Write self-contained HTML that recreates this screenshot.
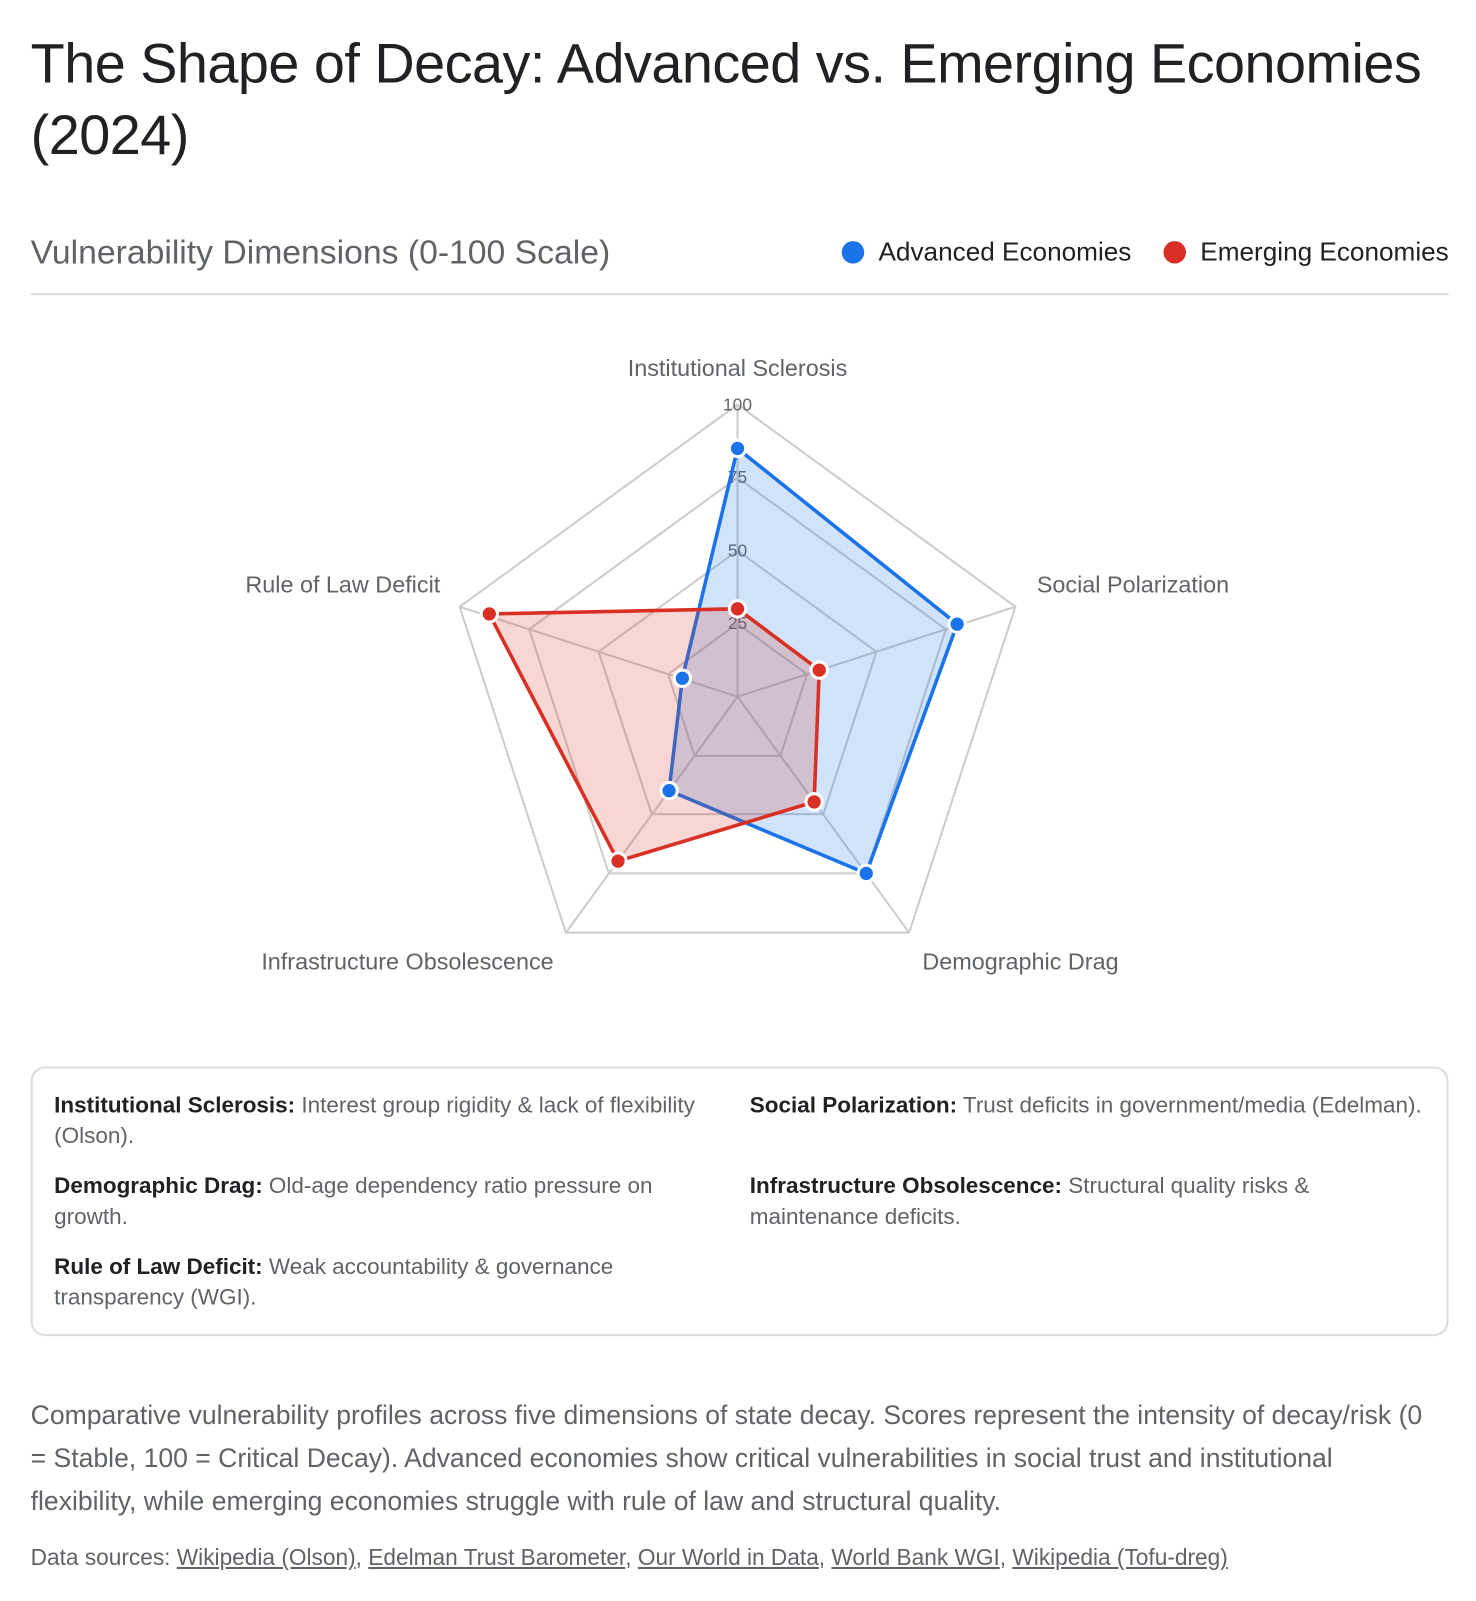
<!DOCTYPE html>
<html><head><meta charset="utf-8"><style>
body{margin:0;background:#fff;font-family:"Liberation Sans",sans-serif;color:#202124;overflow:hidden}
.wrap{position:relative;width:1445px;height:1567px;transform:scale(1.0215);transform-origin:0 0}
h1{position:absolute;left:30px;top:28px;margin:0;font-size:54.6px;font-weight:400;line-height:70px;width:1420px;letter-spacing:-0.5px}
.sub{position:absolute;left:30px;top:228px;font-size:33px;color:#5f6368}
.leg{position:absolute;top:233px;font-size:25.6px;color:#202124}
.dot{display:inline-block;width:22px;height:22px;border-radius:50%;vertical-align:-3px;margin-right:14px}
.hr{position:absolute;left:30px;top:287px;width:1388px;height:2px;background:#dadce0}
.box{position:absolute;left:30px;top:1044px;width:1384px;height:260px;border:2px solid #dadce0;border-radius:14px}
.it{position:absolute;font-size:22px;line-height:30px;color:#5f6368;width:640px}
.it b{color:#202124}
.desc{position:absolute;left:30px;top:1364px;width:1382px;font-size:26px;line-height:42px;color:#5f6368}
.src{position:absolute;left:30px;top:1512px;font-size:22.2px;color:#5f6368}
.src u{color:#5f6368}
</style></head><body><div class="wrap">
<h1>The Shape of Decay: Advanced vs. Emerging Economies (2024)</h1>
<div class="sub">Vulnerability Dimensions (0-100 Scale)</div>
<div class="leg" style="left:824px"><span class="dot" style="background:#1a73e8"></span>Advanced Economies</div>
<div class="leg" style="left:1139px"><span class="dot" style="background:#d93025"></span>Emerging Economies</div>
<div class="hr"></div>
<svg width="1445" height="1000" style="position:absolute;left:0;top:0" font-family="Liberation Sans, sans-serif">
<g fill="none" stroke="#ccc" stroke-width="2">
<polygon points="722,396 994,594 890,913 554,913 450,594"/>
<polygon points="722,467.5 926,616 848,855 596,855 518,616"/>
<polygon points="722,539 858,638 806,797 638,797 586,638"/>
<polygon points="722,610.5 790,660 764,740 680,740 654,660"/>
<line x1="722" y1="682" x2="722" y2="396"/><line x1="722" y1="682" x2="994" y2="594"/><line x1="722" y1="682" x2="890" y2="913"/><line x1="722" y1="682" x2="554" y2="913"/><line x1="722" y1="682" x2="450" y2="594"/>
</g>
<g font-size="17" fill="#666" text-anchor="middle"><text x="722" y="402">100</text><text x="722" y="473">75</text><text x="722" y="545">50</text><text x="722" y="616">25</text></g>
<polygon points="722,439 937,611 848,855 655,774 668,664" fill="rgba(26,115,232,0.2)" stroke="#1a73e8" stroke-width="3.5" stroke-linejoin="round"/>
<polygon points="722,596 802,656 797,785 605,843 479,601" fill="rgba(217,48,37,0.2)" stroke="#d93025" stroke-width="3.5" stroke-linejoin="round"/>
<g stroke="#fff" stroke-width="3">
<g fill="#1a73e8"><circle cx="722" cy="439" r="8"/><circle cx="937" cy="611" r="8"/><circle cx="848" cy="855" r="8"/><circle cx="655" cy="774" r="8"/><circle cx="668" cy="664" r="8"/></g>
<g fill="#d93025"><circle cx="722" cy="596" r="8"/><circle cx="802" cy="656" r="8"/><circle cx="797" cy="785" r="8"/><circle cx="605" cy="843" r="8"/><circle cx="479" cy="601" r="8"/></g>
</g>
<g font-size="22.9" fill="#5f6368"><text x="722" y="368" text-anchor="middle">Institutional Sclerosis</text>
<text x="1015" y="580">Social Polarization</text>
<text x="431" y="580" text-anchor="end">Rule of Law Deficit</text>
<text x="903" y="949">Demographic Drag</text>
<text x="542" y="949" text-anchor="end">Infrastructure Obsolescence</text></g>
</svg>
<div class="box"></div>
<div class="it" style="left:53px;top:1067px"><b>Institutional Sclerosis:</b> Interest group rigidity &amp; lack of flexibility (Olson).</div>
<div class="it" style="left:734px;top:1067px;width:700px"><b>Social Polarization:</b> Trust deficits in government/media (Edelman).</div>
<div class="it" style="left:53px;top:1146px;width:600px"><b>Demographic Drag:</b> Old-age dependency ratio pressure on growth.</div>
<div class="it" style="left:734px;top:1146px;width:600px"><b>Infrastructure Obsolescence:</b> Structural quality risks &amp; maintenance deficits.</div>
<div class="it" style="left:53px;top:1225px;width:580px"><b>Rule of Law Deficit:</b> Weak accountability &amp; governance transparency (WGI).</div>
<div class="desc">Comparative vulnerability profiles across five dimensions of state decay. Scores represent the intensity of decay/risk (0 = Stable, 100 = Critical Decay). Advanced economies show critical vulnerabilities in social trust and institutional flexibility, while emerging economies struggle with rule of law and structural quality.</div>
<div class="src">Data sources: <u>Wikipedia (Olson)</u>, <u>Edelman Trust Barometer</u>, <u>Our World in Data</u>, <u>World Bank WGI</u>, <u>Wikipedia (Tofu-dreg)</u></div>
</div></body></html>
